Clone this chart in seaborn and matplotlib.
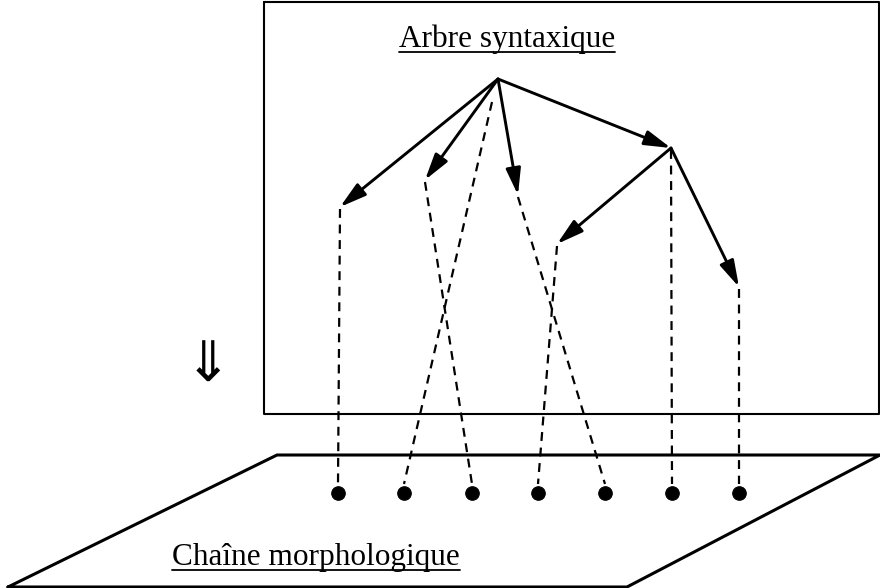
import matplotlib
matplotlib.use("Agg")
import matplotlib.pyplot as plt
import seaborn as sns
import pandas as pd

# positions of the words in the morphological chain (pixel coords, y down)
word_x = [338, 404, 472, 538, 605, 672, 739]
word_y = 493

# tree nodes: name -> (x, y)
nodes = {
    "root": (498, 79),
    "n1": (340, 207),
    "n2": (425, 180),
    "n3": (518, 195),
    "mid": (671, 148),
    "n4": (557, 244),
    "n5": (739, 287),
}
# dependency arrows (head -> dependent)
edges = [("root", "n1"), ("root", "n2"), ("root", "n3"), ("root", "mid"),
         ("mid", "n4"), ("mid", "n5")]
# which word each node is projected on
links = {"n1": 0, "root": 1, "n2": 2, "n4": 3, "n3": 4, "mid": 5, "n5": 6}

box = [(264, 2), (879, 2), (879, 414), (264, 414), (264, 2)]
plane = [(8, 587), (277, 455), (880, 455), (627, 587), (8, 587)]

sns.set_style("white")
plt.rcParams['font.family'] = ['Liberation Serif', 'DejaVu Serif']
plt.rcParams['text.color'] = 'black'

fig = plt.figure(figsize=(8.8, 5.88), dpi=100)
ax = fig.add_axes([0, 0, 1, 1])

ax.plot([p[0] for p in box], [p[1] for p in box], color="black", lw=1.5)
ax.plot([p[0] for p in plane], [p[1] for p in plane], color="black", lw=2.2)

# dashed projection lines
rows = []
for name, w in links.items():
    x0, y0 = nodes[name]
    if name == "root":
        x0, y0 = 492, 100
    rows.append({"link": name, "x": x0, "y": y0 + 2})
    rows.append({"link": name, "x": word_x[w], "y": word_y - 9})
df_links = pd.DataFrame(rows)
sns.lineplot(data=df_links, x="x", y="y", units="link", estimator=None,
             sort=False, color="black", linestyle=(0, (4, 3)), lw=1.6,
             ax=ax, legend=False)

# dependency arrows
for a, b in edges:
    ax.annotate("", xy=nodes[b], xytext=nodes[a],
                arrowprops=dict(arrowstyle="-|>,head_length=1.6,head_width=0.45",
                                color="black", lw=2.1,
                                shrinkA=0, shrinkB=0))

# words
df_words = pd.DataFrame({"x": word_x, "y": [word_y] * len(word_x)})
sns.scatterplot(data=df_words, x="x", y="y", color="black", s=95,
                edgecolor="black", ax=ax, legend=False)
ax.set_xlim(0, 880)
ax.set_ylim(588, 0)
ax.axis("off")


def underlined(x, y, s):
    t = ax.text(x, y, s, fontsize=22.5, ha="center", va="baseline",
                color="black")
    fig.canvas.draw()
    bb = t.get_window_extent().transformed(ax.transData.inverted())
    ax.plot([bb.x0, bb.x1], [y + 5, y + 5], color="black", lw=1.3)


underlined(507, 47, "Arbre syntaxique")
underlined(316, 565, "Chaîne morphologique")

ax.text(208, 367, "⇓", fontsize=40, ha="center", va="center",
        color="black", family=["DejaVu Sans", "Noto Sans"])

fig.savefig("out.png", dpi=100)
